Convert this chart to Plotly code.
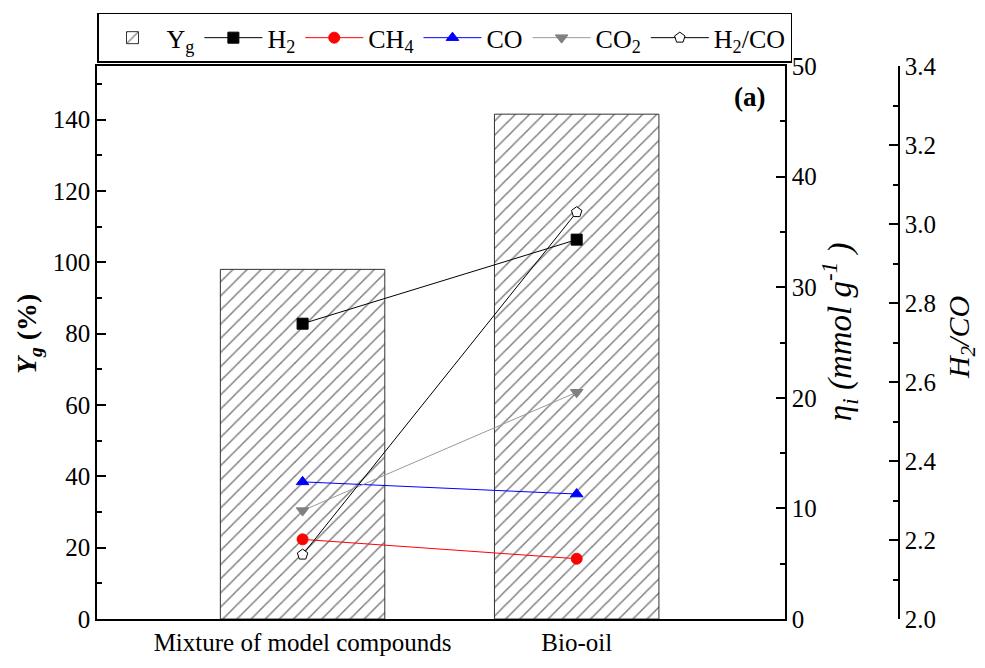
import plotly.graph_objects as go

categories = ["Mixture of model compounds", "Bio-oil"]
Yg = [98.0, 141.5]
H2 = [26.7, 34.3]
CH4 = [7.2, 5.45]
CO = [12.4, 11.3]
CO2 = [9.8, 20.5]
H2_CO = [2.163, 3.03]

FONT = "Liberation Serif"
W, H = 985, 668
L, R, T, B = 97, 20, 66, 41
pw = W - L - R
ph = H - T - B
x_end = (785 - L) / pw
y3_pos = (899 - L) / pw

def px_x(x):
    return (x - L) / pw

def px_y(y):
    return (H - B - y) / ph

fig = go.Figure()
fig.add_trace(go.Bar(
    x=categories, y=Yg, name="Y<sub>g</sub>", width=0.6,
    marker=dict(color="white", line=dict(color="#333333", width=1),
                pattern=dict(shape="/", fgcolor="black", bgcolor="white", size=10, solidity=0.15)),
    yaxis="y"))

def line_trace(y, name, color, symbol, axis, lcolor=None, open_=False):
    return go.Scatter(
        x=categories, y=y, name=name, mode="lines+markers", yaxis=axis,
        line=dict(color=lcolor or color, width=1),
        marker=dict(symbol=symbol, size=11, color="white" if open_ else color,
                    line=dict(color="black" if open_ else color, width=1)))

fig.add_trace(line_trace(H2, "H<sub>2</sub>", "black", "square", "y2"))
fig.add_trace(line_trace(CH4, "CH<sub>4</sub>", "red", "circle", "y2"))
fig.add_trace(line_trace(CO, "CO", "blue", "triangle-up", "y2"))
fig.add_trace(line_trace(CO2, "CO<sub>2</sub>", "#808080", "triangle-down", "y2", lcolor="#999999"))
fig.add_trace(line_trace(H2_CO, "H<sub>2</sub>/CO", "black", "pentagon", "y3", open_=True))

minor = dict(ticklen=5, tickwidth=1.5, tickcolor="black", ticks="inside")
axis_common = dict(showline=True, linecolor="black", linewidth=1.5, ticks="inside",
                   ticklen=9, tickwidth=1.5, tickcolor="black", showgrid=False, zeroline=False,
                   tickfont=dict(family=FONT, size=25, color="black"))

titles = [
    dict(text="<b><i>Y</i><sub><i>g</i></sub> (%)</b>", x=px_x(28), y=px_y(338), size=28),
    dict(text="<i>η<sub>i</sub> (mmol g<sup>-1</sup> )</i>", x=px_x(839), y=px_y(336), size=33),
    dict(text="<i>H<sub>2</sub>/CO</i>", x=px_x(961), y=px_y(342), size=30),
]
annotations = [dict(text=t["text"], xref="paper", yref="paper", x=t["x"], y=t["y"],
                    xanchor="center", yanchor="middle", textangle=-90, showarrow=False,
                    font=dict(family=FONT, size=t["size"], color="black")) for t in titles]
annotations.append(dict(text="<b>(a)</b>", xref="paper", yref="paper", x=px_x(767), y=px_y(97),
                        xanchor="right", yanchor="middle", showarrow=False,
                        font=dict(family=FONT, size=27, color="black")))

fig.update_layout(
    width=W, height=H, margin=dict(l=L, r=R, t=T, b=B),
    paper_bgcolor="white", plot_bgcolor="white",
    font=dict(family=FONT, size=25, color="black"),
    xaxis=dict(domain=[0, x_end], range=[-0.75, 1.76], showline=True, mirror=True,
               linecolor="black", linewidth=1.5, ticks="", showgrid=False,
               tickfont=dict(family=FONT, size=25, color="black")),
    yaxis=dict(range=[0, 155], tickvals=[0, 20, 40, 60, 80, 100, 120, 140],
               minor=dict(dtick=10, **minor), **axis_common),
    yaxis2=dict(range=[0, 50], overlaying="y", side="right", anchor="x", dtick=10,
                minor=dict(dtick=5, **minor), **axis_common),
    yaxis3=dict(range=[2.0, 3.4], overlaying="y", side="right", anchor="free", position=y3_pos,
                tickvals=[2.0, 2.2, 2.4, 2.6, 2.8, 3.0, 3.2, 3.4],
                ticktext=["2.0", "2.2", "2.4", "2.6", "2.8", "3.0", "3.2", "3.4"],
                minor=dict(dtick=0.1, **minor), **axis_common),
    legend=dict(orientation="h", x=0, y=1 + (T - 12) / ph, xanchor="left", yanchor="top",
                bordercolor="black", borderwidth=1.5, bgcolor="white",
                font=dict(family=FONT, size=26, color="black"), itemwidth=58, tracegroupgap=0),
    showlegend=True,
    annotations=annotations,
)

fig.write_html("out.html")
